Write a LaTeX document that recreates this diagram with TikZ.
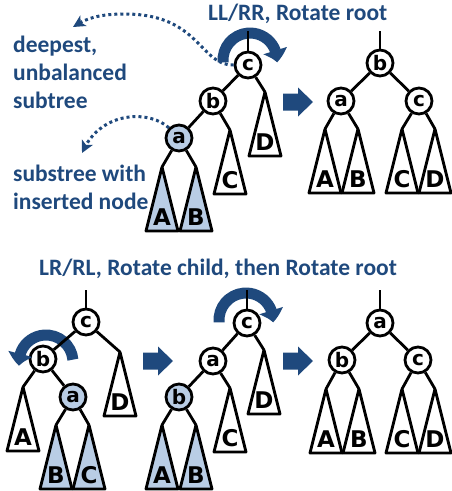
\documentclass[tikz,border=0pt]{standalone}
\usepackage{fontspec}
\setmainfont{Carlito}
\newfontfamily\treefont{DejaVu Sans}
\usepackage{tikz}
\usetikzlibrary{positioning, arrows.meta, bending}

\definecolor{navy}{RGB}{31,73,125}
\definecolor{shade}{RGB}{185,205,229}

\begin{document}
\begin{tikzpicture}[x=1pt, y=-1pt, on grid]

\tikzstyle{every node}=[inner sep=0]
\tikzstyle{vertex}=[circle, draw, line width=2.8pt, fill=white, minimum size=26pt, font=\treefont\bfseries\fontsize{20}{20}\selectfont]
\tikzstyle{inserted}=[vertex, fill=shade]
\tikzstyle{edge}=[line width=2.8pt]
\tikzstyle{subtree}=[line width=2.8pt, line join=round, fill=white]
\tikzstyle{leaf}=[midway, above=4pt, font=\treefont\bfseries\fontsize{23}{23}\selectfont]
\tikzstyle{caption}=[text=navy, font=\bfseries\fontsize{23.5}{28}\selectfont, align=left]
\tikzstyle{hint}=[navy, line width=3pt, dash pattern=on 3pt off 3pt, -{Stealth[length=12pt, width=12pt, inset=3pt]}]
\tikzstyle{turn}=[navy, line width=11pt, -{Triangle[length=12pt, width=24pt, bend]}]
\tikzstyle{bigarrow}=[fill=navy]

\useasboundingbox (0,0) rectangle (451,491);

% captions %
\node[caption, anchor=base west] (ll) at (208,20) {LL/RR, Rotate root};
\node[caption, anchor=north west] (deep) at (13,36) {deepest,\\unbalanced\\subtree};
\node[caption, anchor=north west] (subs) at (13,165) {substree with\\inserted node};
\node[caption, anchor=base west] (lr) at (39,275) {LR/RL, Rotate child, then Rotate root};

% nodes %
\node[vertex] (c1) at (248,65) {c};
\node[vertex, below left=36pt and 35pt of c1] (b1) {b};
\node[inserted, below left=37pt and 34pt of b1] (a1) {a};

\node[vertex] (b2) at (380,63) {b};
\node[vertex, below left=38pt and 39pt of b2] (a2) {a};
\node[vertex, below right=38pt and 39pt of b2] (c2) {c};

\node[vertex] (c3) at (86,322) {c};
\node[vertex, below left=37pt and 43pt of c3] (b3) {b};
\node[inserted, below right=38pt and 30pt of b3] (a3) {a};

\node[vertex] (c4) at (247,323) {c};
\node[vertex, below left=38pt and 34pt of c4] (a4) {a};
\node[inserted, below left=36pt and 34pt of a4] (b4) {b};

\node[vertex] (a5) at (380,323) {a};
\node[vertex, below left=37pt and 38pt of a5] (b5) {b};
\node[vertex, below right=37pt and 38pt of a5] (c5) {c};

% rotations %
\draw[turn] ([shift={(2,-5)}]c1.center) ++(175:27) arc (175:365:27);
\draw[turn] ([shift={(3,3)}]b3.center) ++(-5:27) arc (-5:-188:27);
\draw[turn] ([shift={(-1,-3)}]c4.center) ++(175:27) arc (175:365:27);

\fill[bigarrow] (283,102) ++(0,-8.5) -- ++(15,0) -- ++(0,-6) -- ++(15,14.5) -- ++(-15,14.5) -- ++(0,-6) -- ++(-15,0) -- cycle;
\fill[bigarrow] (143,361) ++(0,-8.5) -- ++(15,0) -- ++(0,-6) -- ++(15,14.5) -- ++(-15,14.5) -- ++(0,-6) -- ++(-15,0) -- cycle;
\fill[bigarrow] (283,361) ++(0,-8.5) -- ++(15,0) -- ++(0,-6) -- ++(15,14.5) -- ++(-15,14.5) -- ++(0,-6) -- ++(-15,0) -- cycle;

% subtrees %
\draw[subtree] (265,92) coordinate (tD1) -- ++(-16,64) -- ++(32,0) node[leaf] (lD1) {D} -- cycle;
\draw[subtree] (230,130) coordinate (tC1) -- ++(-16,64) -- ++(32,0) node[leaf] (lC1) {C} -- cycle;
\draw[subtree, fill=shade] (162,167) coordinate (tA1) -- ++(-16,64) -- ++(32,0) node[leaf] (lA1) {A} -- cycle;
\draw[subtree, fill=shade] (196,167) coordinate (tB1) -- ++(-16,64) -- ++(32,0) node[leaf] (lB1) {B} -- cycle;

\draw[subtree] (325,129) coordinate (tA2) -- ++(-16,64) -- ++(32,0) node[leaf] (lA2) {A} -- cycle;
\draw[subtree] (358,129) coordinate (tB2) -- ++(-16,64) -- ++(32,0) node[leaf] (lB2) {B} -- cycle;
\draw[subtree] (402,129) coordinate (tC2) -- ++(-16,64) -- ++(32,0) node[leaf] (lC2) {C} -- cycle;
\draw[subtree] (435,129) coordinate (tD2) -- ++(-16,64) -- ++(32,0) node[leaf] (lD2) {D} -- cycle;

\draw[subtree] (120,352) coordinate (tD3) -- ++(-16,64) -- ++(32,0) node[leaf] (lD3) {D} -- cycle;
\draw[subtree] (23,387) coordinate (tA3) -- ++(-16,64) -- ++(32,0) node[leaf] (lA3) {A} -- cycle;
\draw[subtree, fill=shade] (56,425) coordinate (tB3) -- ++(-16,64) -- ++(32,0) node[leaf] (lB3) {B} -- cycle;
\draw[subtree, fill=shade] (89,425) coordinate (tC3) -- ++(-16,64) -- ++(32,0) node[leaf] (lC3) {C} -- cycle;

\draw[subtree] (264,350) coordinate (tD4) -- ++(-16,64) -- ++(32,0) node[leaf] (lD4) {D} -- cycle;
\draw[subtree] (230,388) coordinate (tC4) -- ++(-16,64) -- ++(32,0) node[leaf] (lC4) {C} -- cycle;
\draw[subtree, fill=shade] (162,425) coordinate (tA4) -- ++(-16,64) -- ++(32,0) node[leaf] (lA4) {A} -- cycle;
\draw[subtree, fill=shade] (196,425) coordinate (tB4) -- ++(-16,64) -- ++(32,0) node[leaf] (lB4) {B} -- cycle;

\draw[subtree] (326,389) coordinate (tA5) -- ++(-16,64) -- ++(32,0) node[leaf] (lA5) {A} -- cycle;
\draw[subtree] (359,389) coordinate (tB5) -- ++(-16,64) -- ++(32,0) node[leaf] (lB5) {B} -- cycle;
\draw[subtree] (402,389) coordinate (tC5) -- ++(-16,64) -- ++(32,0) node[leaf] (lC5) {C} -- cycle;
\draw[subtree] (435,389) coordinate (tD5) -- ++(-16,64) -- ++(32,0) node[leaf] (lD5) {D} -- cycle;

% edges %
\coordinate (s1) at (248,31);
\coordinate (s2) at (380,31);
\coordinate (s3) at (86,290);
\coordinate (s4) at (247,290);
\coordinate (s5) at (380,290);

\draw[edge] (c1) -- (s1);
\draw[edge] (c1) -- (b1);
\draw[edge] (b1) -- (a1);
\draw[edge] (c1) -- (tD1);
\draw[edge] (b1) -- (tC1);
\draw[edge] (a1) -- (tA1);
\draw[edge] (a1) -- (tB1);

\draw[edge] (b2) -- (s2);
\draw[edge] (b2) -- (a2);
\draw[edge] (b2) -- (c2);
\draw[edge] (a2) -- (tA2);
\draw[edge] (a2) -- (tB2);
\draw[edge] (c2) -- (tC2);
\draw[edge] (c2) -- (tD2);

\draw[edge] (c3) -- (s3);
\draw[edge] (c3) -- (b3);
\draw[edge] (b3) -- (a3);
\draw[edge] (c3) -- (tD3);
\draw[edge] (b3) -- (tA3);
\draw[edge] (a3) -- (tB3);
\draw[edge] (a3) -- (tC3);

\draw[edge] (c4) -- (s4);
\draw[edge] (c4) -- (a4);
\draw[edge] (a4) -- (b4);
\draw[edge] (c4) -- (tD4);
\draw[edge] (a4) -- (tC4);
\draw[edge] (b4) -- (tA4);
\draw[edge] (b4) -- (tB4);

\draw[edge] (a5) -- (s5);
\draw[edge] (a5) -- (b5);
\draw[edge] (a5) -- (c5);
\draw[edge] (b5) -- (tA5);
\draw[edge] (b5) -- (tB5);
\draw[edge] (c5) -- (tC5);
\draw[edge] (c5) -- (tD5);

% hints %
\coordinate (deepend) at (73,27);
\coordinate (insend) at (82,153);
\draw[hint] (c1.west) .. controls (200,66) and (200,14) .. (125,14) .. controls (100,14) and (86,18) .. (deepend);
\draw[hint] (a1.north west) .. controls (150,110) and (100,110) .. (insend);

\end{tikzpicture}
\end{document}
